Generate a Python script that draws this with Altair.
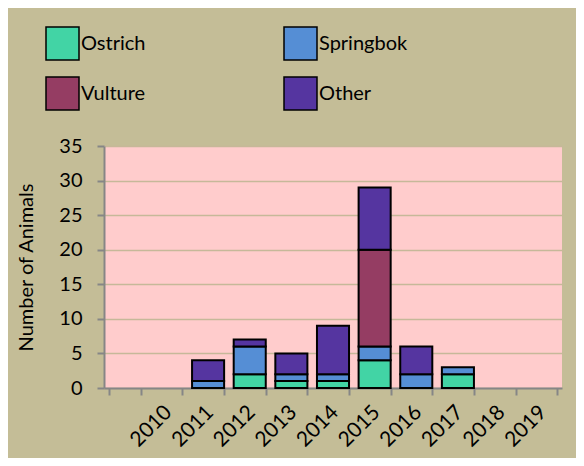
import altair as alt
import pandas as pd

years = ["2010", "2011", "2012", "2013", "2014", "2015", "2016", "2017", "2018", "2019"]
species = ["Ostrich", "Springbok", "Vulture", "Other"]
ostrich = [0, 0, 2, 1, 1, 4, 0, 2, 0, 0]
springbok = [0, 1, 4, 1, 1, 2, 2, 1, 0, 0]
vulture = [0, 0, 0, 0, 0, 14, 0, 0, 0, 0]
other = [0, 3, 1, 3, 7, 9, 4, 0, 0, 0]
colors = ["#42D4A5", "#558ED5", "#953D63", "#5535A0"]

rows = []
for idx, (name, vals) in enumerate(zip(species, [ostrich, springbok, vulture, other])):
    for y, v in zip(years, vals):
        if v > 0:
            rows.append({"year": y, "species": name, "count": v, "idx": idx})
df = pd.DataFrame(rows)

FONT = "Lato"

chart = alt.Chart(df).mark_bar(stroke="black", strokeWidth=2).encode(
    x=alt.X(
        "year:N",
        scale=alt.Scale(domain=[""] + years, paddingInner=0.23, paddingOuter=0.115),
        axis=alt.Axis(
            title=None,
            labelAngle=-45,
            labelAlign="right",
            labelBaseline="top",
            labelPadding=6,
            labelOffset=-6,
            tickBand="extent",
            tickSize=7,
            tickColor="#868686",
            tickWidth=2,
            domainColor="#868686",
            domainWidth=2,
            labelFontSize=21,
            labelFont=FONT,
            labelColor="black",
            grid=False,
        ),
    ),
    y=alt.Y(
        "count:Q",
        stack="zero",
        scale=alt.Scale(domain=[0, 35], nice=False),
        axis=alt.Axis(
            title="Number of Animals",
            values=[0, 5, 10, 15, 20, 25, 30, 35],
            titleFont=FONT,
            titleFontSize=20,
            titleFontWeight="normal",
            titleColor="black",
            titleX=-78,
            titleY=121,
            titleAngle=270,
            titleAlign="center",
            titleBaseline="middle",
            labelFont=FONT,
            labelFontSize=20,
            labelColor="black",
            labelPadding=15,
            tickSize=7,
            tickColor="#868686",
            tickWidth=2,
            domainColor="#868686",
            domainWidth=2,
            grid=True,
            gridColor="#C6B899",
            gridWidth=1.5,
        ),
    ),
    color=alt.Color(
        "species:N",
        scale=alt.Scale(domain=species, range=colors),
        legend=alt.Legend(
            title=None,
            orient="none",
            legendX=-59,
            legendY=-120,
            direction="horizontal",
            columns=2,
            columnPadding=135,
            rowPadding=11,
            symbolType="square",
            symbolSize=1089,
            symbolStrokeColor="black",
            symbolStrokeWidth=1.5,
            symbolOpacity=1,
            labelFont=FONT,
            labelFontSize=20,
            labelColor="black",
            labelOffset=1,
            padding=0,
        ),
    ),
    order=alt.Order("idx:Q", sort="ascending"),
).properties(
    width=458,
    height=242,
    background="#C4BD97",
    padding={"left": 96, "top": 138, "right": 14, "bottom": 70},
    autosize=alt.AutoSizeParams(type="none"),
).configure_view(
    fill="#FFCCCC",
    stroke=None,
)

chart.save("out.html", embed_options={"renderer": "svg", "actions": False})
